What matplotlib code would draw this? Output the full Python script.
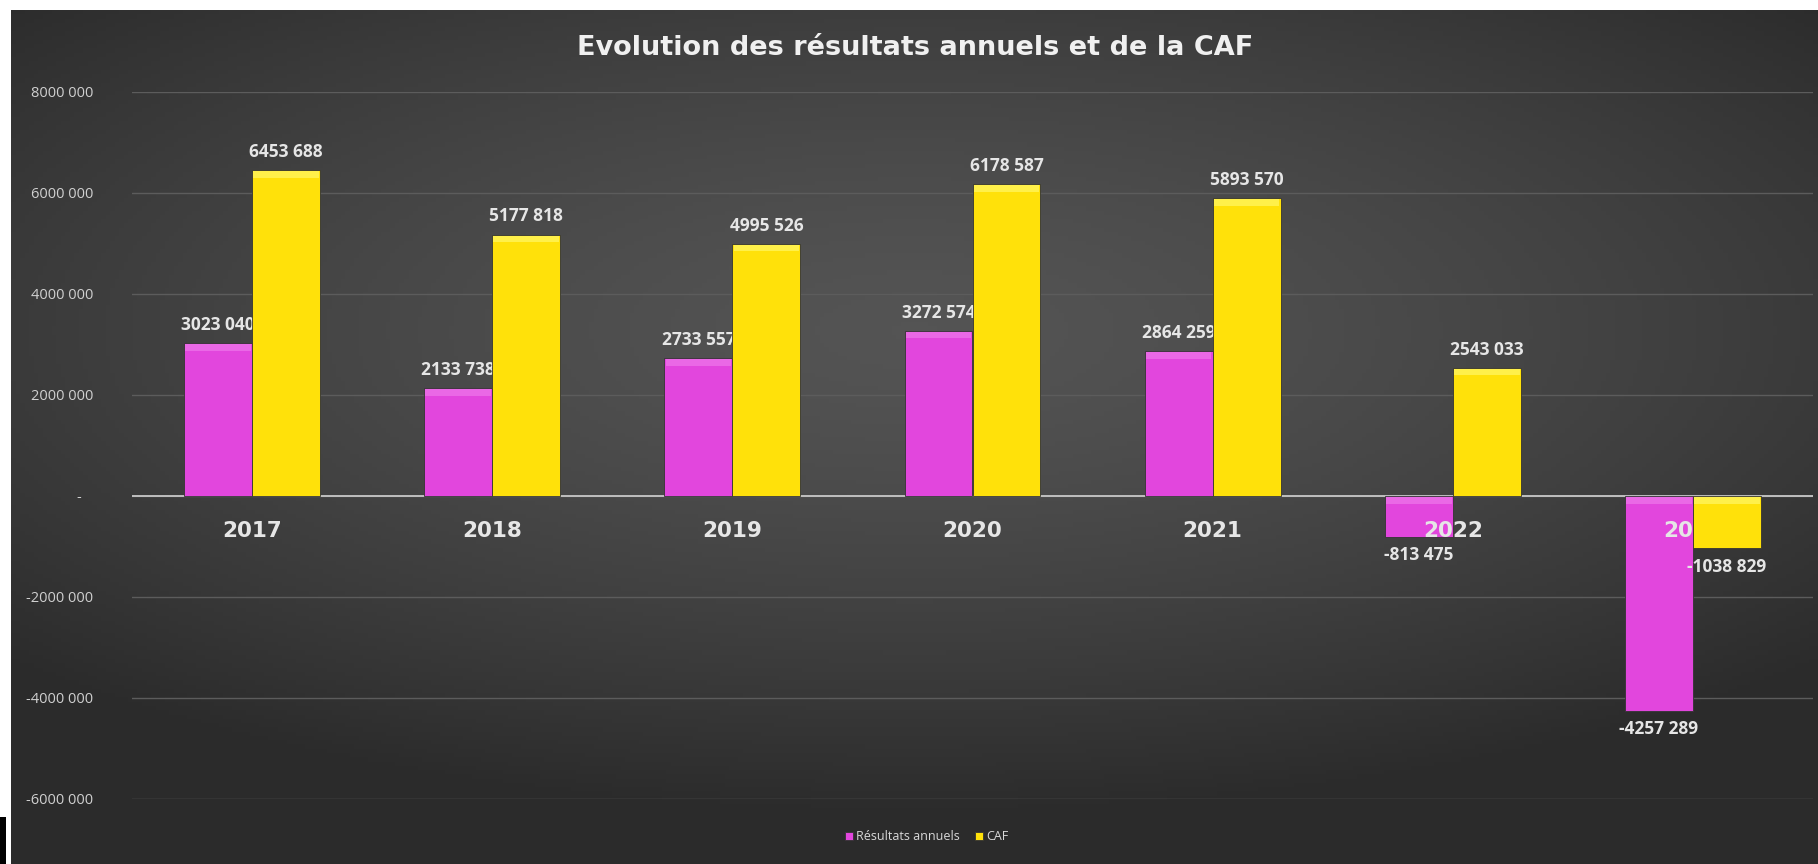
import numpy as np
import matplotlib
matplotlib.use("Agg")
import matplotlib.pyplot as plt
from matplotlib.patches import Rectangle
import matplotlib.transforms as mtransforms

plt.rcParams['font.family'] = ['Open Sans', 'DejaVu Sans']

years = ["2017", "2018", "2019", "2020", "2021", "2022", "2023"]
resultats = [3023040, 2133738, 2733557, 3272574, 2864259, -813475, -4257289]
caf = [6453688, 5177818, 4995526, 6178587, 5893570, 2543033, -1038829]
yticks = [-6000000, -4000000, -2000000, 0, 2000000, 4000000, 6000000, 8000000]

pink = "#e246dd"
yellow = "#ffe10a"
txt = "#e6e6e6"


def fmt(v):
    if v == 0:
        return "-   "
    s = f"{abs(int(v)):,}".replace(",", " ")
    # excel style: first group stuck to the rest
    parts = s.split(" ")
    if len(parts) > 2:
        s = "".join(parts[:-1]) + " " + parts[-1]
    return ("-" if v < 0 else "") + s


fig = plt.figure(figsize=(18.18, 8.64), dpi=100)
fig.patch.set_facecolor("white")

# dark chart area with a soft radial gradient
bg = fig.add_axes([11 / 1818, 0, 1 - 11 / 1818, 1 - 10 / 864])
gx, gy = np.meshgrid(np.linspace(-1, 1, 400), np.linspace(-1, 1, 200))
r = np.sqrt((gx * 0.9) ** 2 + ((gy + 0.25) * 1.1) ** 2)
r = np.clip(r / 1.25, 0, 1)
c0, c1 = 0.33, 0.17
img = c0 + (c1 - c0) * r ** 1.4
bg.imshow(np.dstack([img, img, img]), aspect="auto", extent=[0, 1, 0, 1])
bg.set_axis_off()
fig.patches.append(Rectangle((0, 0), 6 / 1818, 47 / 864, transform=fig.transFigure,
                             facecolor="black", edgecolor="none", zorder=5))

ax = fig.add_axes([132 / 1818, 1 - 799 / 864, (1813 - 132) / 1818, (799 - 92) / 864])
ax.set_facecolor("none")

x = np.arange(len(years))
w = 0.283
b1 = ax.bar(x - w / 2, resultats, w, color=pink, edgecolor="#333333", linewidth=0.6,
            zorder=2, label="Résultats annuels")
b2 = ax.bar(x + w / 2, caf, w, color=yellow, edgecolor="#333333", linewidth=0.6,
            zorder=3, label="CAF")

# soft bevel on top of the bars
for bars, hi in ((b1, "#ea68e6"), (b2, "#fff04a")):
    for rect in bars:
        h = rect.get_height()
        top = h if h >= 0 else 0
        ax.add_patch(Rectangle((rect.get_x() + 0.005, top - 150000), rect.get_width() - 0.01, 130000,
                               facecolor=hi, edgecolor="none", zorder=rect.get_zorder() + 0.1))

for bars, zo in ((b1, 2.5), (b2, 4)):
    for rect in bars:
        v = rect.get_height()
        xc = rect.get_x() + rect.get_width() / 2
        ax.annotate(fmt(v), (xc, v), xytext=(0, 13 if v >= 0 else -13), textcoords="offset points",
                    ha="center", va="center", fontsize=12.5, fontweight="bold",
                    color=txt, zorder=zo)

ax.set_xlim(-0.5, len(years) - 0.5)
ax.set_ylim(-6000000, 8000000)
ax.set_yticks(yticks)
ax.set_yticklabels([fmt(v) for v in yticks], fontsize=10.5, color="#d0d0d0")
ax.tick_params(axis="y", length=0, pad=28)
ax.set_xticks([])
ax.grid(axis="y", color="#5c5c5c", linewidth=1)
ax.set_axisbelow(True)
ax.axhline(0, color="#c8c8c8", linewidth=1.3, zorder=1.5)
for s in ax.spines.values():
    s.set_visible(False)

trans = mtransforms.offset_copy(ax.transData, fig=fig, x=0, y=-25, units="points")
for i, yr in enumerate(years):
    ax.text(i, 0, yr, transform=trans, ha="center", va="center", fontsize=15.5,
            fontweight="bold", family="DejaVu Sans", color=txt, zorder=2.5)

fig.text(915 / 1818, 1 - 48 / 864, "Evolution des résultats annuels et de la CAF",
         ha="center", va="center", fontsize=19.5, fontweight="bold", family="DejaVu Sans",
         color="#f0f0f0")

leg = fig.legend(handles=[b1, b2], loc="center", bbox_to_anchor=(927 / 1818, 1 - 837 / 864),
                 ncol=2, frameon=False, fontsize=9, handlelength=0.6, handleheight=0.6,
                 handletextpad=0.3, columnspacing=1.2)
for t in leg.get_texts():
    t.set_color("#d9d9d9")

fig.savefig("out.png", dpi=100)
